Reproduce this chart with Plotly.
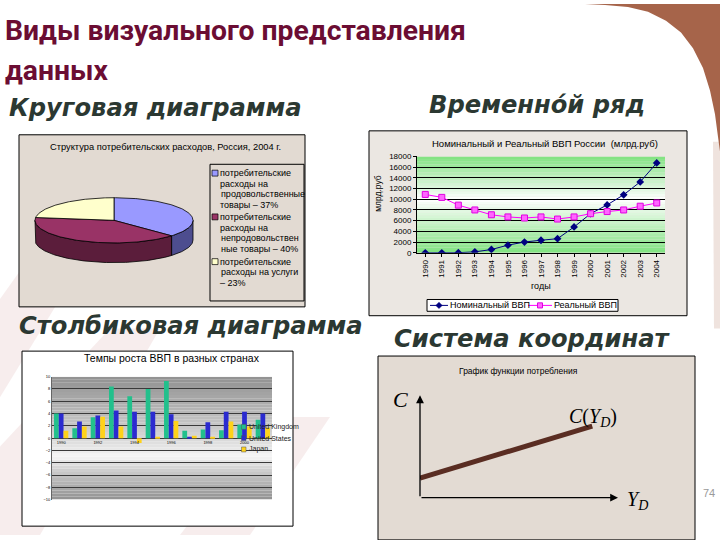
import math
import plotly.graph_objects as go

W, H = 720, 540


def fx(x):
    return x / W


def fy(y):
    return 1 - y / H


# ---------------- data ----------------
pie_labels = [
    ["потребительские", "расходы на", "продовольственные", "товары – 37%"],
    ["потребительские", "расходы на", "непродовольствен", "ные товары – 40%"],
    ["потребительские", "расходы на услуги", "– 23%"],
]
pie_values = [37, 40, 23]
pie_top_colors = ["#9999ff", "#993366", "#ffffcc"]
pie_side_colors = ["#4d4d8f", "#5b1d3b", "#b8b890"]

years = ["1990", "1991", "1992", "1993", "1994", "1995", "1996", "1997",
         "1998", "1999", "2000", "2001", "2002", "2003", "2004"]
gdp_nominal = [1, 1, 19, 172, 611, 1428, 2007, 2342, 2629, 4823, 7306,
               8944, 10831, 13243, 16778]
gdp_real = [10900, 10350, 8900, 8000, 7100, 6700, 6500, 6700, 6300, 6700,
            7300, 7700, 8000, 8700, 9300]
gdp_names = ["Номинальный ВВП", "Реальный ВВП"]

growth_years = ["1990", "1991", "1992", "1993", "1994", "1995", "1996",
                "1997", "1998", "1999", "2000", "2001"]
growth_uk = [4.0, 1.6, 3.4, 8.4, 6.8, 8.0, 9.3, 1.2, 1.4, 1.3, 2.2, 3.0]
growth_us = [4.0, 2.7, 3.7, 4.5, 4.3, 4.3, 3.9, 0.2, 2.6, 4.3, 4.3, 4.0]
growth_japan = [1.2, 1.9, 3.5, 1.9, -0.8, 0.1, 2.8, 0.4, 0.2, 2.7, 1.9, 1.7]
growth_names = ["United Kingdom", "United States", "Japan"]
growth_colors = ["#22c08c", "#2b2bd0", "#ffd21a"]

cons_income = [0, 87]
cons_consumption = [19, 70]

ARIAL = "Liberation Sans, Arial, sans-serif"
VERD = "DejaVu Sans, Verdana, sans-serif"
SERIF = "Liberation Serif, Times New Roman, serif"
TITLE = "Roboto, Liberation Sans, sans-serif"

fig = go.Figure()
shapes = []
ann = []


def path_from(points, close=True):
    s = "M " + " L ".join(f"{fx(x):.5f},{fy(y):.5f}" for x, y in points)
    return s + (" Z" if close else "")


# ---------------- background decorations ----------------
brown = [(585, 0), (605, 1), (628, 3), (648, 8), (666, 17), (681, 29), (693, 45),
         (703, 65), (710, 88), (715, 112), (718, 135), (720, 150), (720, 0)]
shapes.append(dict(type="path", path=path_from(brown), xref="paper", yref="paper",
                   fillcolor="#a6644a", line=dict(width=0), layer="below"))
shapes.append(dict(type="path", path=path_from([(713, 140), (720, 140), (720, 330), (714, 330)]),
                   xref="paper", yref="paper", fillcolor="rgba(166,100,74,0.18)",
                   line=dict(width=0), layer="below"))
for pts in [
    [(0, 300), (0, 400), (120, 200), (70, 200)],
    [(0, 450), (0, 540), (40, 540), (160, 330), (110, 330)],
    [(180, 540), (250, 540), (330, 420), (270, 420)],
]:
    shapes.append(dict(type="path", path=path_from(pts), xref="paper", yref="paper",
                       fillcolor="rgba(200,130,130,0.14)", line=dict(width=0), layer="below"))


# ---------------- panels ----------------
def rect(x0, y0, x1, y1, fill, lw=1, layer="below", color="black"):
    shapes.append(dict(type="rect", xref="paper", yref="paper",
                       x0=fx(x0), x1=fx(x1), y0=fy(y1), y1=fy(y0),
                       fillcolor=fill, line=dict(color=color, width=lw), layer=layer))


rect(19, 133, 305, 308, "#e2dad2")
rect(369, 129, 687, 317, "#ebe7e2")
rect(22, 353, 293, 531, "#ffffff")
rect(378, 358, 695, 545, "#e3dbd3")

# ---------------- titles ----------------
ann.append(dict(text="<b>Виды визуального представления</b>", x=fx(3), y=fy(27),
                xanchor="left", yanchor="middle",
                font=dict(family=TITLE, size=28.3, color="#6b0d33")))
ann.append(dict(text="<b>данных</b>", x=fx(3), y=fy(68), xanchor="left", yanchor="middle",
                font=dict(family=TITLE, size=28.3, color="#6b0d33")))


def sub(text, x, y):
    ann.append(dict(text=f"<b><i>{text}</i></b>", x=fx(x), y=fy(y), xanchor="left",
                    yanchor="middle", font=dict(family=VERD, size=24.2, color="#2b3832")))


sub("Круговая диаграмма", 7, 106)
sub("Временно\u0301й ряд", 427, 103)
sub("Столбиковая диаграмма", 17, 327)
sub("Система координат", 392, 341)

# ---------------- pie (3D) ----------------
total = sum(pie_values)
Rx, Ry, zc, depth = 79, 23, 10, 20


def arc(a_from, a_to, yoff):
    n = max(2, int(abs(a_to - a_from)))
    pts = []
    for k in range(n + 1):
        a = math.radians(a_from + (a_to - a_from) * k / n)
        pts.append((Rx * math.cos(a), yoff + Ry * math.sin(a)))
    return pts


spans = []
cum = 0
for v in pie_values:
    a0 = 90 - 360 * cum / total
    a1 = 90 - 360 * (cum + v) / total
    spans.append((a0, a1))
    cum += v

for (a0, a1), col in zip(spans, pie_side_colors):
    hi, lo = min(a0, 0), max(a1, -180)
    if hi > lo:
        top = arc(hi, lo, zc)
        bot = arc(lo, hi, zc - depth)
        pts = top + bot + [top[0]]
        fig.add_trace(go.Scatter(x=[p[0] for p in pts], y=[p[1] for p in pts],
                                 fill="toself", fillcolor=col, mode="lines",
                                 line=dict(color="black", width=0.8),
                                 xaxis="x", yaxis="y", showlegend=False, hoverinfo="skip"))
for (a0, a1), col in zip(spans, pie_top_colors):
    pts = [(0, zc)] + arc(a0, a1, zc) + [(0, zc)]
    fig.add_trace(go.Scatter(x=[p[0] for p in pts], y=[p[1] for p in pts],
                             fill="toself", fillcolor=col, mode="lines",
                             line=dict(color="black", width=0.8),
                             xaxis="x", yaxis="y", showlegend=False, hoverinfo="skip"))

ann.append(dict(text="Структура потребительских расходов, Россия, 2004 г.", x=fx(165), y=fy(145),
                xanchor="center", yanchor="middle", font=dict(family=ARIAL, size=9.3, color="black")))
rect(210, 163, 304, 302, "rgba(0,0,0,0)", layer="above")
block_y = [172, 216.5, 262]
for lines, col, y0 in zip(pie_labels, pie_top_colors, block_y):
    rect(212, y0 - 3, 218, y0 + 3, col, lw=0.7, layer="above")
    for i, t in enumerate(lines):
        ann.append(dict(text=t, x=fx(218.5), y=fy(y0 + i * 10.8), xanchor="left",
                        yanchor="middle", font=dict(family=ARIAL, size=9, color="black")))

# ---------------- GDP time series ----------------
N = 36
for k in range(N):
    v0 = 18000 * k / N
    v1 = 18000 * (k + 1) / N
    mid = (v0 + v1) / 2
    f = (mid - 10000) / 8000 if mid > 10000 else (10000 - mid) / 10000
    f = min(1, max(0, f))
    g = (128, 226, 128)
    c = tuple(round(255 * (1 - f) + gc * f) for gc in g)
    shapes.append(dict(type="rect", xref="x2", yref="y2", x0=-0.5, x1=14.5, y0=v0, y1=v1,
                       fillcolor=f"rgb{c}", line=dict(width=0), layer="below"))

fig.add_trace(go.Scatter(x=years, y=gdp_nominal, name=gdp_names[0], mode="lines+markers",
                         line=dict(color="#000080", width=1),
                         marker=dict(symbol="diamond", size=6, color="#000080"),
                         xaxis="x2", yaxis="y2", showlegend=False))
fig.add_trace(go.Scatter(x=years, y=gdp_real, name=gdp_names[1], mode="lines+markers",
                         line=dict(color="#ff00ff", width=1),
                         marker=dict(symbol="square", size=6, color="#ff66ff",
                                     line=dict(color="#e000e0", width=1)),
                         xaxis="x2", yaxis="y2", showlegend=False))
ann.append(dict(text="Номинальный и Реальный ВВП России  (млрд.руб)", x=fx(545), y=fy(142),
                xanchor="center", yanchor="middle", font=dict(family=ARIAL, size=9.5, color="black")))
ann.append(dict(text="млрд.руб", x=fx(378), y=fy(193), textangle=-90, xanchor="center",
                yanchor="middle", font=dict(family=ARIAL, size=8.5, color="black")))
ann.append(dict(text="годы", x=fx(541), y=fy(287), xanchor="center", yanchor="middle",
                font=dict(family=ARIAL, size=9, color="black")))
# legend (drawn by hand to match the compact Excel legend box)
rect(427, 300.5, 618, 312.5, "white", layer="above")
ly = 306.5
shapes.append(dict(type="line", xref="paper", yref="paper", x0=fx(430), x1=fx(448), y0=fy(ly), y1=fy(ly),
                   line=dict(color="#000080", width=1), layer="above"))
shapes.append(dict(type="path", xref="paper", yref="paper", layer="above",
                   path=path_from([(439, ly - 3.2), (442.2, ly), (439, ly + 3.2), (435.8, ly)]),
                   fillcolor="#000080", line=dict(color="#000080", width=0.5)))
ann.append(dict(text=gdp_names[0], x=fx(448), y=fy(ly), xanchor="left", yanchor="middle",
                font=dict(family=ARIAL, size=9, color="black")))
shapes.append(dict(type="line", xref="paper", yref="paper", x0=fx(528), x1=fx(552), y0=fy(ly), y1=fy(ly),
                   line=dict(color="#ff00ff", width=1), layer="above"))
rect(537.5, ly - 2.6, 542.5, ly + 2.6, "#ff66ff", lw=1, layer="above", color="#e000e0")
ann.append(dict(text=gdp_names[1], x=fx(552), y=fy(ly), xanchor="left", yanchor="middle",
                font=dict(family=ARIAL, size=9, color="black")))

# ---------------- bar chart ----------------
for k in range(40):
    v0 = -10 + 20 * k / 40
    v1 = -10 + 20 * (k + 1) / 40
    mid = (v0 + v1) / 2
    f = (mid + 3) / 13 if mid > -3 else (-3 - mid) / 7
    f = min(1, max(0, f)) ** 0.8
    c = tuple(round(248 * (1 - f) + 145 * f) for _ in range(3))
    shapes.append(dict(type="rect", xref="x3", yref="y3", x0=-0.5, x1=11.5, y0=v0, y1=v1,
                       fillcolor=f"rgb{c}", line=dict(width=0), layer="below"))

for name, vals, col in zip(growth_names, [growth_uk, growth_us, growth_japan], growth_colors):
    fig.add_trace(go.Bar(x=growth_years, y=vals, name=name, marker=dict(color=col, line=dict(width=0)),
                         xaxis="x3", yaxis="y3", showlegend=False))

ann.append(dict(text="Темпы роста ВВП в разных странах", x=fx(172), y=fy(360), xanchor="center",
                yanchor="middle", font=dict(family=ARIAL, size=10.5, color="black")))
for i, (name, col) in enumerate(zip(growth_names, growth_colors)):
    yy = 430 + i * 11.5
    rect(241.5, yy - 2.5, 246, yy + 2.5, col, lw=0.5, layer="above", color="#555")
    ann.append(dict(text=name, x=fx(246.5), y=fy(yy), xanchor="left", yanchor="middle",
                    font=dict(family=ARIAL, size=7, color="#222")))

# ---------------- consumption function ----------------
fig.add_trace(go.Scatter(x=cons_income, y=cons_consumption, mode="lines",
                         line=dict(color="#5a2d22", width=5), xaxis="x4", yaxis="y4",
                         showlegend=False, hoverinfo="skip"))
ann.append(dict(x=100, y=0, ax=0, ay=0, xref="x4", yref="y4", axref="x4", ayref="y4",
                showarrow=True, arrowhead=2, arrowsize=1.2, arrowwidth=1.3, arrowcolor="black", text=""))
ann.append(dict(x=0, y=100, ax=0, ay=0, xref="x4", yref="y4", axref="x4", ayref="y4",
                showarrow=True, arrowhead=2, arrowsize=1.2, arrowwidth=1.3, arrowcolor="black", text=""))
ann.append(dict(text="График функции потребления", x=fx(518), y=fy(373), xanchor="center",
                yanchor="middle", font=dict(family=ARIAL, size=8.5, color="black")))
ann.append(dict(text="<i>C</i>", x=fx(400), y=fy(402), xanchor="center", yanchor="middle",
                font=dict(family=SERIF, size=22, color="black")))
ann.append(dict(text="<i>C</i>(<i>Y<sub>D</sub></i>)", x=fx(593), y=fy(420), xanchor="center",
                yanchor="middle", font=dict(family=SERIF, size=20, color="black")))
ann.append(dict(text="<i>Y<sub>D</sub></i>", x=fx(637), y=fy(505), xanchor="center",
                yanchor="middle", font=dict(family=SERIF, size=20, color="black")))
ann.append(dict(text="74", x=fx(709), y=fy(497), xanchor="center", yanchor="middle",
                font=dict(family=ARIAL, size=11, color="#9a9a9a")))

for a in ann:
    a.setdefault("xref", "paper")
    a.setdefault("yref", "paper")
    a.setdefault("showarrow", False)

hidden = dict(visible=False, fixedrange=True)
fig.update_layout(
    width=W, height=H, margin=dict(l=0, r=0, t=0, b=0),
    paper_bgcolor="white", plot_bgcolor="rgba(0,0,0,0)",
    showlegend=False, bargap=0.22, bargroupgap=0, barmode="group",
    shapes=shapes, annotations=ann,
    xaxis=dict(domain=[fx(29), fx(199)], range=[-85, 85], anchor="y", **hidden),
    yaxis=dict(domain=[fy(280), fy(180)], range=[-50, 50], anchor="x", **hidden),
    xaxis2=dict(domain=[fx(417), fx(665)], type="category", anchor="y2", tickangle=-90,
                showline=True, linecolor="black", linewidth=1, ticks="outside", ticklen=3,
                tickcolor="black", showgrid=False, tickfont=dict(family=ARIAL, size=8, color="black"),
                range=[-0.5, 14.5], fixedrange=True),
    yaxis2=dict(domain=[fy(253), fy(155)], range=[0, 18000], dtick=2000, anchor="x2",
                tickformat="d", showline=True, linecolor="black", linewidth=1, ticks="outside",
                ticklen=3, tickcolor="black", showgrid=True, gridcolor="black", gridwidth=1,
                zeroline=False, tickfont=dict(family=ARIAL, size=8, color="black"), fixedrange=True),
    xaxis3=dict(domain=[fx(52), fx(272)], type="category", anchor="free", position=fy(442),
                tickvals=growth_years[::2], ticks="", showline=False, showgrid=False,
                tickfont=dict(family=ARIAL, size=4, color="black"), range=[-0.5, 11.5], fixedrange=True),
    yaxis3=dict(domain=[fy(504), fy(379)], range=[-10, 10], dtick=2, anchor="x3",
                showline=True, linecolor="#666", linewidth=1, showgrid=True, gridcolor="#3a3a3a",
                gridwidth=1, zeroline=False, ticks="", tickfont=dict(family=ARIAL, size=4, color="black"),
                fixedrange=True),
    xaxis4=dict(domain=[fx(420), fx(618)], range=[0, 100], anchor="y4", **hidden),
    yaxis4=dict(domain=[fy(502), fy(398)], range=[0, 100], anchor="x4", **hidden),
)

fig.write_html("out.html", config={"displayModeBar": False},
               post_script="document.body.style.margin='0';")
